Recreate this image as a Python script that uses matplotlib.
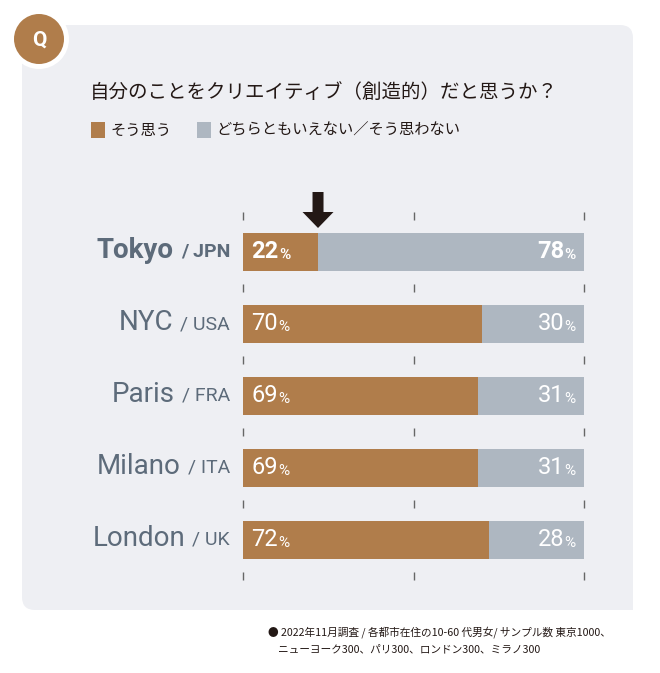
import matplotlib.pyplot as plt
import matplotlib.patches as mpatches

plt.rcParams['font.family'] = ['Noto Sans CJK JP', 'DejaVu Sans']

cities = ['Tokyo', 'NYC', 'Paris', 'Milano', 'London']
countries = ['JPN', 'USA', 'FRA', 'ITA', 'UK']
agree = [22, 70, 69, 69, 72]
disagree = [78, 30, 31, 31, 28]

BROWN = '#B07D4B'
GREY = '#AEB7C1'
PANEL = '#EEEFF3'
LABEL = '#5D6B7A'

W, H = 660, 673
fig = plt.figure(figsize=(W / 100, H / 100), dpi=100)
bg = fig.add_axes([0, 0, 1, 1])
bg.set_xlim(0, W)
bg.set_ylim(H, 0)
bg.set_axis_off()

# panel
bg.add_patch(mpatches.Rectangle((600, 37), 33, 573, fc=PANEL, ec='none'))
bg.add_patch(mpatches.FancyBboxPatch((22, 25), 611, 585,
             boxstyle='round,pad=0,rounding_size=13', fc=PANEL, ec='none'))
bg.add_patch(mpatches.Rectangle((600, 580), 33, 30, fc=PANEL, ec='none'))
bg.add_patch(mpatches.Circle((39, 39), 30, fc='white', ec='none'))
bg.add_patch(mpatches.Circle((39, 39), 25, fc=BROWN, ec='none'))
bg.text(39, 40, 'Q', color='white', fontsize=15, fontweight='bold',
        ha='center', va='center', family='Roboto')

bg.text(90, 92, '自分のことをクリエイティブ（創造的）だと思うか？', fontsize=14,
        color='#231815', va='center')
bg.add_patch(mpatches.Rectangle((91, 122), 14, 16, fc=BROWN))
bg.text(110, 130, 'そう思う', fontsize=11, va='center', color='#231815')
bg.add_patch(mpatches.Rectangle((197, 122), 14, 16, fc=GREY))
bg.text(216, 130, 'どちらともいえない／そう思わない', fontsize=11, va='center', color='#231815')

bg.text(268, 632, '● 2022年11月調査 / 各都市在住の10-60 代男女/ サンプル数 東京1000、',
        fontsize=7.7, va='center', color='#231815')
bg.text(278, 649, 'ニューヨーク300、パリ300、ロンドン300、ミラノ300',
        fontsize=7.7, va='center', color='#231815')

# bars
x0, x1, top, bot = 243, 584, 210, 580
ax = fig.add_axes([x0 / W, 1 - bot / H, (x1 - x0) / W, (bot - top) / H])
ax.set_xlim(0, 100)
ax.set_ylim((bot - 252) / 72, (top - 252) / 72)
ax.set_axis_off()
rows = list(range(len(cities)))
ax.barh(rows, agree, height=0.52, color=BROWN)
ax.barh(rows, disagree, left=agree, height=0.52, color=GREY)

for t in [0, 50, 100]:
    for yy in [-0.5] + [i + 0.5 for i in rows]:
        ax.plot([t, t], [yy - 0.05, yy + 0.05], color='#666666', lw=1,
                solid_capstyle='butt', clip_on=False)

fig.canvas.draw()
r = fig.canvas.get_renderer()

# arrow pointing at the end of Tokyo's bar
ax_px = ax.transData.transform((agree[0], 0))
arrow_x = bg.transData.inverted().transform(ax_px)[0]
bg.add_patch(mpatches.FancyArrow(arrow_x, 192, 0, 36, width=11, head_width=31,
             head_length=16, length_includes_head=True, fc='#231815', ec='none'))

inv = ax.transData.inverted()
for i in rows:
    bold = 'bold' if i == 0 else 'normal'
    yc = 1 - (252 + 72 * i) / H
    c = fig.text(230 / W, yc, '/ ' + countries[i], fontsize=14,
                 color=LABEL, ha='right', va='center', family='Roboto', fontweight=bold)
    w = c.get_window_extent(r).width
    fig.text((230 - w - 7) / W, yc + 0.002, cities[i], fontsize=20,
             color=LABEL, ha='right', va='center', family='Roboto', fontweight=bold)
    n = ax.text(2.5, i, str(agree[i]), fontsize=17, color='white', va='center',
                fontweight=bold, family='Roboto')
    ex = n.get_window_extent(r)
    xe = inv.transform((ex.x1, 0))[0]
    ax.text(xe, i + 0.04, '%', fontsize=11, color='white', va='center',
            fontweight=bold, family='Roboto')
    p = ax.text(97.5, i + 0.04, '%', fontsize=11, color='white', va='center', ha='right',
                fontweight=bold, family='Roboto')
    ex = p.get_window_extent(r)
    xe = inv.transform((ex.x0, 0))[0]
    ax.text(xe, i, str(disagree[i]), fontsize=17, color='white', va='center', ha='right',
            fontweight=bold, family='Roboto')

fig.savefig('out.png', dpi=100)
